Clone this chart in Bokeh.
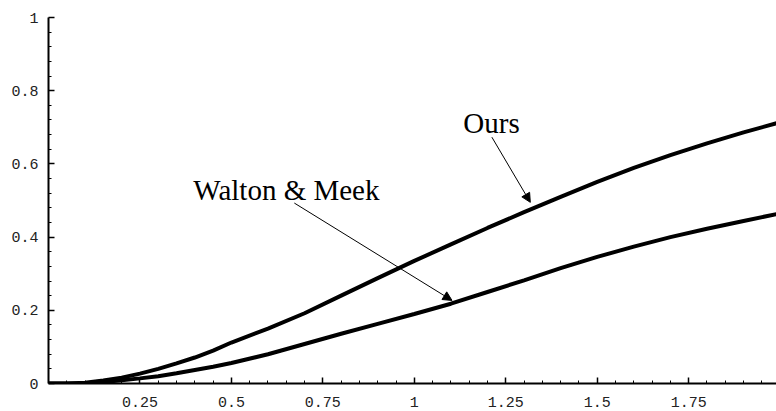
from bokeh.plotting import figure
from bokeh.models import Range1d, FixedTicker, Label, Arrow, NormalHead
from bokeh.embed import file_html
from bokeh.resources import INLINE

# data
x_vals = [0, 0.05, 0.1, 0.15, 0.2, 0.25, 0.3, 0.35, 0.4, 0.45, 0.5, 0.6, 0.7, 0.8, 0.9, 1.0,
          1.1, 1.2, 1.3, 1.4, 1.5, 1.6, 1.7, 1.8, 1.9, 2.0]
ours = [0, 0, 0.002, 0.008, 0.016, 0.027, 0.040, 0.055, 0.071, 0.090, 0.112, 0.150, 0.192, 0.24,
        0.288, 0.335, 0.38, 0.425, 0.468, 0.51, 0.551, 0.589, 0.624, 0.656, 0.686, 0.714]
walton_meek = [0, 0, 0, 0.004, 0.009, 0.014, 0.020, 0.028, 0.037, 0.046, 0.056, 0.080, 0.108, 0.136,
               0.163, 0.19, 0.218, 0.25, 0.282, 0.315, 0.346, 0.374, 0.40, 0.423, 0.444, 0.465]

x_ticks = [0.25, 0.5, 0.75, 1.0, 1.25, 1.5, 1.75]
x_tick_labels = ["0.25", "0.5", "0.75", "1", "1.25", "1.5", "1.75"]
y_ticks = [0, 0.2, 0.4, 0.6, 0.8, 1.0]
y_tick_labels = ["0", "0.2", "0.4", "0.6", "0.8", "1"]

labels = ["Ours", "Walton & Meek"]
label_x = [1.134, 0.396]
label_y = [0.712, 0.528]
arrow_start_x = [1.212, 0.672]
arrow_start_y = [0.673, 0.493]
arrow_end_x = [1.317, 1.103]
arrow_end_y = [0.495, 0.227]

p = figure(width=776, height=411, output_backend="svg", toolbar_location=None,
           x_range=Range1d(0, 1.99), y_range=Range1d(0, 1),
           min_border_left=48, min_border_right=0, min_border_top=17, min_border_bottom=28)
p.outline_line_color = None
p.grid.visible = False
p.background_fill_color = "white"
p.border_fill_color = "white"

p.line(x_vals, ours, line_color="black", line_width=4)
p.line(x_vals, walton_meek, line_color="black", line_width=4)

x_minor = [round(i * 0.05, 2) for i in range(0, 41) if i % 5 != 0]
y_minor = [round(i * 0.04, 2) for i in range(0, 26) if i % 5 != 0]

p.xaxis.ticker = FixedTicker(ticks=x_ticks, minor_ticks=x_minor)
p.yaxis.ticker = FixedTicker(ticks=y_ticks, minor_ticks=y_minor)
p.xaxis.major_label_overrides = {t: l for t, l in zip(x_ticks, x_tick_labels)}
p.yaxis.major_label_overrides = {t: l for t, l in zip(y_ticks, y_tick_labels)}

for ax in (p.xaxis, p.yaxis):
    ax.axis_line_width = 2
    ax.axis_line_color = "black"
    ax.major_tick_in = 6
    ax.major_tick_out = 0
    ax.minor_tick_in = 3
    ax.minor_tick_out = 0
    ax.major_tick_line_width = 1.5
    ax.minor_tick_line_width = 1
    ax.major_tick_line_color = "black"
    ax.minor_tick_line_color = "black"
    ax.major_label_text_font = "Liberation Mono"
    ax.major_label_text_font_size = "15px"
    ax.major_label_text_color = "#222222"
p.xaxis.major_label_standoff = 13
p.yaxis.major_label_standoff = 10

for t, lx, ly in zip(labels, label_x, label_y):
    p.add_layout(Label(x=lx, y=ly, text=t, text_font="Liberation Serif",
                       text_font_size="29px", text_color="black",
                       text_baseline="alphabetic", text_align="left"))

for sx, sy, ex, ey in zip(arrow_start_x, arrow_start_y, arrow_end_x, arrow_end_y):
    p.add_layout(Arrow(x_start=sx, y_start=sy, x_end=ex, y_end=ey,
                       line_width=1, line_color="black",
                       end=NormalHead(size=9, fill_color="black", line_color="black", line_width=1)))

open("out.html", "w").write(file_html(p, INLINE))
